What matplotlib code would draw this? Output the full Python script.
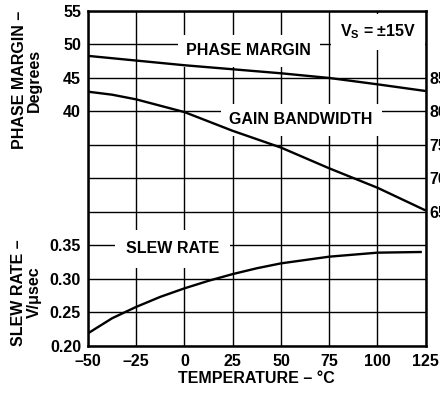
import matplotlib
matplotlib.use("Agg")
import matplotlib.pyplot as plt

plt.rcParams['font.family'] = ['Liberation Sans', 'DejaVu Sans']
plt.rcParams['font.weight'] = 'bold'
plt.rcParams['mathtext.fontset'] = 'custom'
plt.rcParams['mathtext.rm'] = 'Liberation Sans:bold'
plt.rcParams['mathtext.bf'] = 'Liberation Sans:bold'
plt.rcParams['mathtext.it'] = 'Liberation Sans:bold'

# data
pm_temps = [-50, -25, 0, 25, 50, 75, 100, 125]
phase_margin = [48.3, 47.6, 46.9, 46.3, 45.7, 45.0, 44.05, 43.05]
gbw_temps = [-50, -37.5, -25, -12.5, 0, 25, 50, 75, 100, 125]
gain_bw = [82.95, 82.5, 81.8, 80.85, 79.9, 77.1, 74.6, 71.5, 68.6, 65.2]
slew_temps = [-50, -37.5, -25, -12.5, 0, 12.5, 25, 37.5, 50, 75, 100, 123]
slew_rate = [0.2185, 0.241, 0.258, 0.273, 0.2857, 0.297, 0.307, 0.3157,
             0.323, 0.333, 0.339, 0.340]

x_ticks = [-50, -25, 0, 25, 50, 75, 100, 125]
x_labels = ['–50', '–25', '0', '25', '50', '75', '100', '125']
pm_ticks = [5, 10, 15, 20, 25, 30, 35, 40, 45, 50, 55]
pm_labels = ['', '', '', '', '', '', '', '40', '45', '50', '55']
sr_ticks = [0.20, 0.25, 0.30, 0.35]
sr_labels = ['0.20', '0.25', '0.30', '0.35']
gbw_ticks = [65, 70, 75, 80, 85]
gbw_labels = ['65', '70', '75', '80', '85']

FS = 11.5
fig = plt.figure(figsize=(4.4, 3.94), dpi=100)
ax = fig.add_axes([0.2, 0.1226, 0.7675, 0.8494])

ax.set_xlim(-50, 125)
ax.set_ylim(5, 55)
ax.set_xticks(x_ticks)
ax.set_xticklabels(x_labels, fontsize=FS, fontweight='bold')
ax.set_yticks(pm_ticks)
ax.set_yticklabels(pm_labels, fontsize=FS, fontweight='bold')
ax.tick_params(axis='both', length=0)
ax.tick_params(axis='y', pad=5)
ax.tick_params(axis='x', pad=6)
ax.grid(True, color='black', linewidth=1.0)
ax.set_axisbelow(True)
for s in ax.spines.values():
    s.set_linewidth(1.8)
    s.set_zorder(6)

ax.plot(pm_temps, phase_margin, color='black', linewidth=1.7, zorder=5,
        solid_capstyle='butt')

ax2 = ax.twinx()
ax2.set_ylim(0.20, 0.70)
ax2.yaxis.set_ticks_position('left')
ax2.set_yticks(sr_ticks)
ax2.set_yticklabels(sr_labels, fontsize=FS, fontweight='bold')
ax2.tick_params(axis='y', length=0, pad=5)
for s in ax2.spines.values():
    s.set_visible(False)
ax2.plot(slew_temps, slew_rate, color='black', linewidth=1.7,
         solid_capstyle='butt')

ax3 = ax.twinx()
ax3.set_ylim(45, 95)
ax3.set_yticks(gbw_ticks)
ax3.set_yticklabels(gbw_labels, fontsize=FS, fontweight='bold')
ax3.tick_params(axis='y', length=0, pad=3)
for s in ax3.spines.values():
    s.set_visible(False)
ax3.plot(gbw_temps, gain_bw, color='black', linewidth=1.7,
         solid_capstyle='butt')

box = dict(facecolor='white', edgecolor='none', boxstyle='square,pad=0.55')
ax.text(0.476, 0.881, 'PHASE MARGIN', transform=ax.transAxes, fontsize=FS,
        fontweight='bold', ha='center', va='center', bbox=box, zorder=3)
ax.text(0.972, 0.938, r'V$_\mathregular{S}$ = ±15V', transform=ax.transAxes,
        fontsize=FS, fontweight='bold', ha='right', va='center',
        bbox=dict(facecolor='white', edgecolor='none', boxstyle='square,pad=0.55'),
        zorder=3)
ax.text(0.631, 0.675, 'GAIN BANDWIDTH', transform=ax.transAxes, fontsize=FS,
        fontweight='bold', ha='center', va='center', bbox=box, zorder=3)
ax.text(0.25, 0.289, 'SLEW RATE', transform=ax.transAxes, fontsize=FS,
        fontweight='bold', ha='center', va='center',
        bbox=dict(facecolor='white', edgecolor='none', boxstyle='square,pad=0.7'),
        zorder=3)

ax.set_xlabel('TEMPERATURE – °C', fontsize=FS, fontweight='bold', labelpad=1.5)

fig.text(0.062, 0.797, 'PHASE MARGIN –\nDegrees', rotation=90, fontsize=FS,
         fontweight='bold', ha='center', va='center', multialignment='center',
         linespacing=1.0)
fig.text(0.06, 0.258, 'SLEW RATE –\nV/μsec', rotation=90, fontsize=FS,
         fontweight='bold', ha='center', va='center', multialignment='center',
         linespacing=1.0)

fig.savefig('out.png', dpi=100)
